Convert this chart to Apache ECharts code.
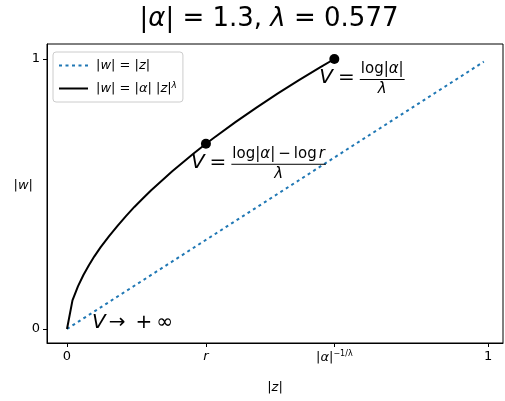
<!DOCTYPE html>
<html><head><meta charset="utf-8">
<script src="https://cdn.jsdelivr.net/npm/echarts@6/dist/echarts.min.js"></script>
<style>html,body{margin:0;padding:0;background:#fff}#c{width:505px;height:401px}</style>
</head><body><div id="c"></div>
<script>
// ---- data ----
const curveX = [0, 0.013, 0.026, 0.039, 0.052, 0.065, 0.08, 0.1, 0.12, 0.14, 0.16, 0.18, 0.2, 0.25, 0.3, 0.33, 0.35, 0.4, 0.45, 0.5, 0.55, 0.6, 0.635];
const curveY = [0, 0.106, 0.158, 0.200, 0.236, 0.269, 0.303, 0.344, 0.382, 0.418, 0.452, 0.483, 0.514, 0.584, 0.649, 0.686, 0.709, 0.766, 0.820, 0.872, 0.921, 0.968, 1.0];
const diagX = [0, 0.99];
const diagY = [0, 0.99];
const dotX = [0.33, 0.635];
const dotY = [0.686, 1.0];
const xTicks = [0, 0.33, 0.635, 1];
const xTickLabels = ['0', '{i|r}', '|{i|α}|{sup|−1/λ}', '1'];
const yTicks = [0, 1];
const yTickLabels = ['0', '1'];
const legendNames = ['|w| = |z|', '|w| = |α| |z|^λ'];

const FONT = '"DejaVu Sans", sans-serif';
const chart = echarts.init(document.getElementById('c'));
const zip = (a, b) => a.map((v, i) => [v, b[i]]);
const pick = (ticks, labels, v) => {
  let best = 0;
  ticks.forEach((t, i) => { if (Math.abs(t - v) < Math.abs(ticks[best] - v)) best = i; });
  return labels[best];
};

chart.setOption({
  animation: false,
  backgroundColor: '#fff',
  grid: { left: 47, right: 2, top: 44, bottom: 58, show: true, borderColor: '#000', borderWidth: 1, containLabel: false },
  legend: {
    orient: 'vertical', left: 53, top: 52, padding: [7, 6, 7, 5], itemGap: 9,
    itemWidth: 29, itemHeight: 14,
    itemStyle: { opacity: 0 },
    backgroundColor: 'rgba(255,255,255,0.8)', borderColor: '#ccc', borderWidth: 1, borderRadius: 3,
    data: legendNames,
    formatter: n => n === legendNames[0] ? '|{i|w}| = |{i|z}|' : '|{i|w}| = |{i|α}| |{i|z}|{sup|λ}',
    textStyle: {
      fontFamily: FONT, fontSize: 13, color: '#000', padding: [0, 0, 0, 3],
      rich: {
        i: { fontFamily: FONT, fontSize: 13, fontStyle: 'italic', color: '#000' },
        sup: { fontFamily: FONT, fontSize: 9, fontStyle: 'italic', color: '#000', verticalAlign: 'top', padding: [0, 0, 6, 0] }
      }
    }
  },
  xAxis: {
    type: 'value', min: -0.0475, max: 1.0356,
    splitLine: { show: false },
    axisLine: { onZero: false, lineStyle: { color: '#000', width: 1 } },
    axisTick: { show: true, length: 4, customValues: xTicks, lineStyle: { color: '#000' } },
    axisLabel: {
      customValues: xTicks, margin: 7, color: '#000', fontFamily: FONT, fontSize: 13,
      formatter: v => pick(xTicks, xTickLabels, v),
      rich: {
        i: { fontFamily: FONT, fontSize: 13, fontStyle: 'italic', color: '#000' },
        sup: { fontFamily: FONT, fontSize: 8, color: '#000', verticalAlign: 'top', padding: [0, 0, 7, 0] }
      }
    },
    name: '|{i|z}|', nameLocation: 'middle', nameGap: 38, nameMoveOverlap: false,
    nameTextStyle: { fontFamily: FONT, fontSize: 13, color: '#000',
      rich: { i: { fontFamily: FONT, fontSize: 13, fontStyle: 'italic', color: '#000' } } }
  },
  yAxis: {
    type: 'value', min: -0.052, max: 1.0556,
    splitLine: { show: false },
    axisLine: { show: true, onZero: false, lineStyle: { color: '#000', width: 1 } },
    axisTick: { show: true, length: 4, customValues: yTicks, lineStyle: { color: '#000' } },
    axisLabel: {
      customValues: yTicks, margin: 7, color: '#000', fontFamily: FONT, fontSize: 13,
      formatter: v => pick(yTicks, yTickLabels, v)
    },
    name: '|{i|w}|', nameLocation: 'middle', nameGap: 14, nameRotate: 0, nameMoveOverlap: false,
    nameTextStyle: { fontFamily: FONT, fontSize: 13, color: '#000', align: 'right', padding: [0, 0, 16, 0],
      rich: { i: { fontFamily: FONT, fontSize: 13, fontStyle: 'italic', color: '#000' } } }
  },
  series: [
    { name: legendNames[0], type: 'line', data: zip(diagX, diagY), symbol: 'none', silent: true,
      lineStyle: { color: '#1f77b4', width: 2, type: [3, 3.5] }, itemStyle: { color: '#1f77b4' } },
    { name: legendNames[1], type: 'line', data: zip(curveX, curveY), symbol: 'none', silent: true,
      lineStyle: { color: '#000', width: 2 }, itemStyle: { color: '#000' } },
    { name: 'pts', type: 'scatter', data: zip(dotX, dotY), symbolSize: 10, silent: true,
      itemStyle: { color: '#000', opacity: 1 }, z: 5 }
  ]
});

// ---- annotations (anchored at data points via the chart's scales) ----
const mctx = document.createElement('canvas').getContext('2d');
const fontOf = (s, size) => (s.it ? 'italic ' : '') + size + 'px ' + FONT;
function measure(segs, size) {
  let w = 0;
  segs.forEach(s => { w += (s.gap || 0); mctx.font = fontOf(s, size); w += mctx.measureText(s.t).width; });
  return w;
}
function layout(segs, x, baseline, size) {
  const els = []; let cx = x;
  segs.forEach(s => {
    cx += (s.gap || 0);
    const font = fontOf(s, size);
    mctx.font = font;
    const w = mctx.measureText(s.t).width;
    els.push({ type: 'text', x: cx, y: baseline - 0.35 * size, silent: true, z: 100,
      style: { text: s.t, font: font, fill: '#000', align: 'left', verticalAlign: 'middle' } });
    cx += w;
  });
  return els;
}
function fracAnno(p, numSegs) {
  const big = 20, small = 15;
  const x0 = p[0] - 15, bar = p[1] + 20.5, vBase = p[1] + 26;
  const leftSegs = [{ t: 'V', it: true }, { t: '=', gap: 5 }];
  const els = layout(leftSegs, x0, vBase, big);
  const fx = x0 + measure(leftSegs, big) + 6;
  const nw = measure(numSegs, small);
  const denSegs = [{ t: 'λ', it: true }];
  const dw = measure(denSegs, small);
  els.push(...layout(numSegs, fx, bar - 5, small));
  els.push(...layout(denSegs, fx + (nw - dw) / 2, bar + 15, small));
  els.push({ type: 'line', silent: true, z: 100, shape: { x1: fx - 1, y1: bar, x2: fx + nw + 1, y2: bar },
    style: { stroke: '#000', lineWidth: 1 } });
  return els;
}

const g = { gridIndex: 0 };
const pTop = chart.convertToPixel(g, [dotX[1], dotY[1]]);
const pR = chart.convertToPixel(g, [dotX[0], dotY[0]]);
const pO = chart.convertToPixel(g, [0, 0]);
const gr = chart.getModel().getComponent('grid', 0).coordinateSystem.getRect();

let els = [];
els.push(...fracAnno(pTop, [{ t: 'log|' }, { t: 'α', it: true }, { t: '|' }]));
els.push(...fracAnno(pR, [{ t: 'log|' }, { t: 'α', it: true }, { t: '|' }, { t: '−', gap: 3 }, { t: 'log', gap: 3 }, { t: 'r', it: true, gap: 2 }]));
els.push(...layout([{ t: 'V', it: true }, { t: '→', gap: 3 }, { t: '+', gap: 10 }, { t: '∞', gap: 4 }], pO[0] + 25, pO[1] + 1, 20));

// title
const titleSegs = [{ t: '|' }, { t: 'α', it: true }, { t: '| = 1.3, ' }, { t: 'λ', it: true }, { t: ' = 0.577' }];
const tw = measure(titleSegs, 26);
const tcx = gr.x + gr.width / 2 - 6;
els.push(...layout(titleSegs, tcx - tw / 2, 28, 26));

chart.setOption({ graphic: { elements: els } });
</script>
</body></html>
